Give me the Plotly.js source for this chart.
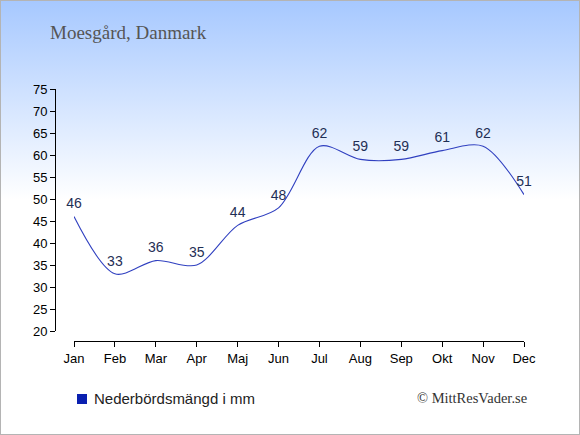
<!DOCTYPE html>
<html>
<head>
<meta charset="utf-8">
<script src="https://cdn.plot.ly/plotly-3.0.1.min.js"></script>
<style>
  html, body { margin: 0; padding: 0; }
  #wrap { position: relative; width: 580px; height: 435px; overflow: hidden;
          background: linear-gradient(to bottom, #a6c8ff 0px, #ffffff 200px, #ffffff 435px); }
  #chart { position: absolute; left: 0; top: 0; width: 580px; height: 435px; }
  #frame { position: absolute; left: 0; top: 0; width: 580px; height: 435px; box-sizing: border-box;
           border: 1px solid #b4b4b4; pointer-events: none; }
</style>
</head>
<body>
<div id="wrap"><div id="chart"></div><div id="frame"></div></div>
<script>
const months = ["Jan","Feb","Mar","Apr","Maj","Jun","Jul","Aug","Sep","Okt","Nov","Dec"];
const precipitation = [46, 33, 36, 35, 44, 48, 62, 59, 59, 61, 62, 51];
const yTicks = [20, 25, 30, 35, 40, 45, 50, 55, 60, 65, 70, 75];
const titleText = "Moesgård, Danmark";
const legendText = "Nederbördsmängd i mm";
const creditText = "© MittResVader.se";

const W = 580, H = 435;
const mL = 55, mR = 56, mT = 89, mB = 94;
const pw = W - mL - mR, ph = H - mT - mB;
const px = v => (v - mL) / pw;
const py = v => (H - mB - v) / ph;

const trace = {
  x: months,
  y: precipitation,
  type: "scatter",
  mode: "lines+markers+text",
  line: { color: "#3040c0", width: 1.1, shape: "spline", smoothing: 0.9 },
  marker: { size: 6, color: "rgba(0,0,0,0)", line: { width: 0 } },
  text: precipitation.map(String),
  textposition: "top center",
  textfont: { family: "Liberation Sans, Arial, sans-serif", size: 14, color: "#1f2f55" },
  cliponaxis: false,
  hoverinfo: "skip",
  showlegend: false
};

const layout = {
  width: W, height: H,
  margin: { l: mL, r: mR, t: mT, b: mB, pad: 0 },
  paper_bgcolor: "rgba(0,0,0,0)",
  plot_bgcolor: "rgba(0,0,0,0)",
  showlegend: false,
  title: {
    text: titleText,
    x: 50 / W, xanchor: "left", xref: "container",
    y: 1 - 32 / H, yanchor: "middle", yref: "container",
    font: { family: "Liberation Serif, Times New Roman, serif", size: 19, color: "#555555" }
  },
  xaxis: {
    type: "category",
    range: [0, 11],
    domain: [19 / pw, 1],
    anchor: "free", position: 0,
    showgrid: false, zeroline: false,
    showline: true, linecolor: "#000", linewidth: 1,
    ticks: "outside", ticklen: 5, tickcolor: "#000", tickwidth: 1,
    tickfont: { family: "Liberation Sans, Arial, sans-serif", size: 13, color: "#000" },
    fixedrange: true
  },
  yaxis: {
    range: [20, 75],
    domain: [10 / ph, 1],
    anchor: "free", position: 0,
    tickvals: yTicks,
    ticktext: yTicks.map(String),
    showgrid: false, zeroline: false,
    showline: true, linecolor: "#000", linewidth: 1,
    ticks: "outside", ticklen: 5, tickcolor: "#000", tickwidth: 1,
    tickfont: { family: "Liberation Sans, Arial, sans-serif", size: 13, color: "#000" },
    fixedrange: true
  },
  shapes: [
    { type: "rect", xref: "paper", yref: "paper",
      x0: px(77), x1: px(87), y0: py(404), y1: py(394),
      fillcolor: "#0a20b0", line: { width: 0 } }
  ],
  annotations: [
    { xref: "paper", yref: "paper", x: px(92), y: py(398), xanchor: "left", yanchor: "middle",
      text: legendText, showarrow: false,
      font: { family: "Liberation Sans, Arial, sans-serif", size: 15, color: "#222222" } },
    { xref: "paper", yref: "paper", x: px(529), y: py(398), xanchor: "right", yanchor: "middle",
      text: creditText, showarrow: false,
      font: { family: "Liberation Serif, Times New Roman, serif", size: 14.5, color: "#333333" } }
  ]
};

Plotly.newPlot("chart", [trace], layout, { staticPlot: true, displayModeBar: false });
</script>
</body>
</html>
